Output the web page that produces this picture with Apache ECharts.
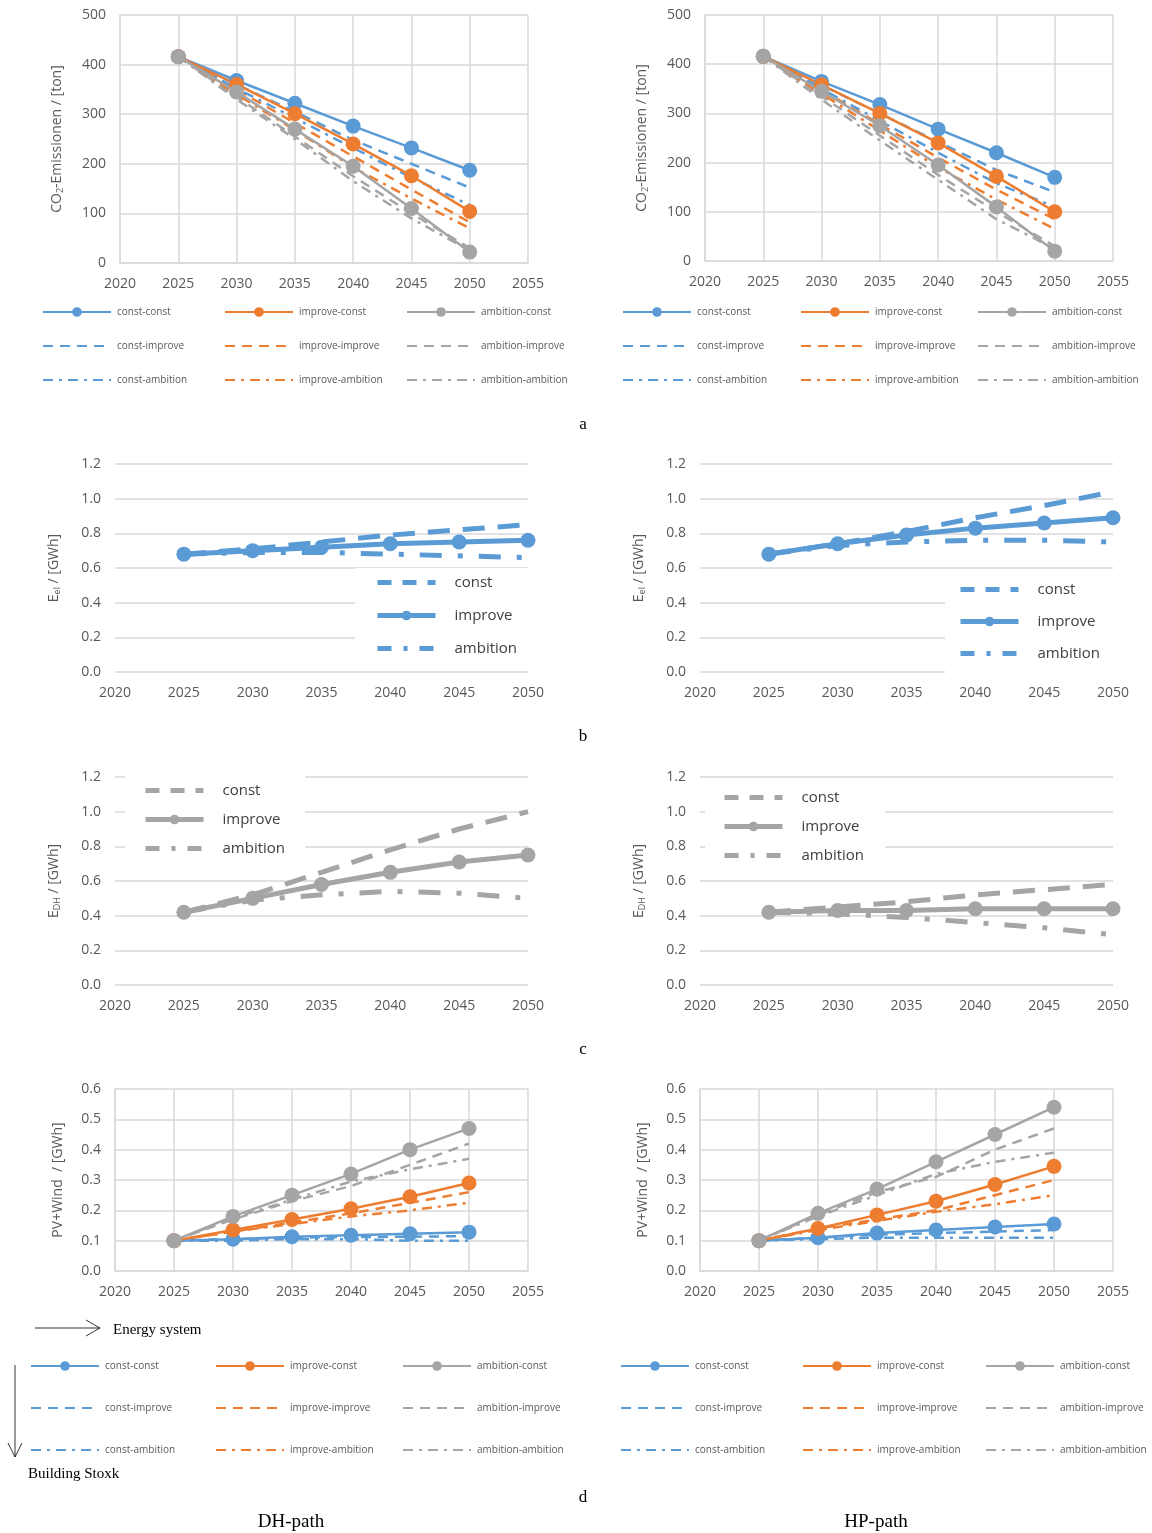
<!DOCTYPE html>
<html>
<head>
<meta charset="utf-8">
<script src="https://cdn.jsdelivr.net/npm/echarts@6/dist/echarts.min.js"></script>
<style>
  html, body { margin: 0; padding: 0; background: #fff; }
  #container { width: 1152px; height: 1533px; }
</style>
</head>
<body>
<div id="container"></div>
<script>
var years = [2025, 2030, 2035, 2040, 2045, 2050];
var combos = ['const-const', 'improve-const', 'ambition-const',
              'const-improve', 'improve-improve', 'ambition-improve',
              'const-ambition', 'improve-ambition', 'ambition-ambition'];
var levels = ['const', 'improve', 'ambition'];

// a: CO2 emissions [ton]
var co2DH = {
  'const-const':       [416, 368, 322, 276, 232, 187],
  'improve-const':     [416, 360, 301, 240, 176, 104],
  'ambition-const':    [416, 345, 270, 195, 110, 22],
  'const-improve':     [416, 360, 305, 248, 200, 152],
  'improve-improve':   [416, 350, 282, 215, 148, 82],
  'ambition-improve':  [416, 335, 255, 175, 100, 30],
  'const-ambition':    [416, 352, 292, 232, 172, 117],
  'improve-ambition':  [416, 340, 268, 193, 130, 70],
  'ambition-ambition': [416, 330, 250, 165, 90, 25]
};
var co2HP = {
  'const-const':       [416, 365, 318, 268, 220, 170],
  'improve-const':     [416, 358, 300, 240, 172, 100],
  'ambition-const':    [416, 345, 275, 195, 110, 20],
  'const-improve':     [416, 357, 300, 242, 185, 140],
  'improve-improve':   [416, 348, 278, 210, 145, 85],
  'ambition-improve':  [416, 335, 255, 175, 100, 30],
  'const-ambition':    [416, 350, 285, 220, 158, 110],
  'improve-ambition':  [416, 340, 265, 190, 125, 65],
  'ambition-ambition': [416, 328, 245, 165, 85, 25]
};
// b: electricity demand [GWh]
var elDH = { 'const': [0.68, 0.71, 0.75, 0.79, 0.82, 0.85], 'improve': [0.68, 0.70, 0.72, 0.74, 0.75, 0.76], 'ambition': [0.68, 0.69, 0.69, 0.68, 0.67, 0.66] };
var elHP = { 'const': [0.68, 0.74, 0.81, 0.89, 0.96, 1.04], 'improve': [0.68, 0.74, 0.79, 0.83, 0.86, 0.89], 'ambition': [0.68, 0.73, 0.75, 0.76, 0.76, 0.75] };
// c: district heating demand [GWh]
var dhDH = { 'const': [0.42, 0.52, 0.65, 0.78, 0.90, 1.00], 'improve': [0.42, 0.50, 0.58, 0.65, 0.71, 0.75], 'ambition': [0.42, 0.49, 0.52, 0.54, 0.53, 0.50] };
var dhHP = { 'const': [0.42, 0.45, 0.48, 0.52, 0.55, 0.58], 'improve': [0.42, 0.43, 0.43, 0.44, 0.44, 0.44], 'ambition': [0.42, 0.41, 0.39, 0.36, 0.33, 0.29] };
// d: PV + wind [GWh]
var pvDH = {
  'const-const':       [0.10, 0.105, 0.113, 0.118, 0.123, 0.128],
  'improve-const':     [0.10, 0.135, 0.17, 0.205, 0.245, 0.29],
  'ambition-const':    [0.10, 0.18, 0.25, 0.32, 0.40, 0.47],
  'const-improve':     [0.10, 0.105, 0.11, 0.112, 0.113, 0.115],
  'improve-improve':   [0.10, 0.13, 0.16, 0.19, 0.225, 0.26],
  'ambition-improve':  [0.10, 0.17, 0.23, 0.28, 0.35, 0.42],
  'const-ambition':    [0.10, 0.10, 0.105, 0.105, 0.10, 0.10],
  'improve-ambition':  [0.10, 0.13, 0.155, 0.18, 0.20, 0.225],
  'ambition-ambition': [0.10, 0.175, 0.235, 0.295, 0.335, 0.37]
};
var pvHP = {
  'const-const':       [0.10, 0.11, 0.125, 0.135, 0.145, 0.155],
  'improve-const':     [0.10, 0.14, 0.185, 0.23, 0.285, 0.345],
  'ambition-const':    [0.10, 0.19, 0.27, 0.36, 0.45, 0.54],
  'const-improve':     [0.10, 0.11, 0.12, 0.125, 0.13, 0.135],
  'improve-improve':   [0.10, 0.14, 0.17, 0.20, 0.25, 0.30],
  'ambition-improve':  [0.10, 0.185, 0.26, 0.31, 0.40, 0.47],
  'const-ambition':    [0.10, 0.105, 0.11, 0.11, 0.11, 0.11],
  'improve-ambition':  [0.10, 0.135, 0.165, 0.195, 0.22, 0.25],
  'ambition-ambition': [0.10, 0.18, 0.25, 0.32, 0.36, 0.39]
};

var colors = { 'const': '#5B9BD5', 'improve': '#ED7D31', 'ambition': '#A5A5A5' };
var FONT = 'Open Sans';
var TXT = '#595959';

var myChart = echarts.init(document.getElementById('container'));
var grids = [], xAxes = [], yAxes = [], series = [], legends = [], graphics = [];

function pts(vals) {
  return vals.map(function (v, i) { return [years[i], v]; });
}
// style: 'solid' | 'dash' | 'dashdot'
function dashOf(style, thick) {
  if (style === 'solid') return 'solid';
  if (style === 'dash') return thick ? [22, 13] : [10, 7];
  return thick ? [22, 16, 5, 16] : [10, 6, 3, 6];
}
var nineStyle = { 'const': 'solid', 'improve': 'dash', 'ambition': 'dashdot' };
var threeStyle = { 'const': 'dash', 'improve': 'solid', 'ambition': 'dashdot' };

function addAxes(g, opt) {
  grids.push({ left: g[0], top: g[1], width: g[2] - g[0], height: g[3] - g[1] });
  var idx = grids.length - 1;
  xAxes.push({
    gridIndex: idx, type: 'value', min: 2020, max: opt.xmax, interval: 5,
    axisLine: { show: opt.box, lineStyle: { color: '#d9d9d9', width: 1.5 } },
    axisTick: { show: false },
    splitLine: { show: opt.box, lineStyle: { color: '#d9d9d9', width: 1.5 } },
    axisLabel: { color: TXT, fontFamily: FONT, fontSize: 14, margin: 14, formatter: function (v) { return String(v); } }
  });
  yAxes.push({
    gridIndex: idx, type: 'value', min: 0, max: opt.ymax, interval: opt.yint,
    name: opt.yname, nameLocation: 'middle', nameGap: opt.nameGap, nameRotate: 90,
    nameTextStyle: { color: TXT, fontFamily: FONT, fontSize: 14,
      rich: { sub: { fontSize: 9, color: TXT, fontFamily: FONT, verticalAlign: 'bottom', padding: [6, 0, 0, 0] } } },
    axisLine: { show: opt.box, lineStyle: { color: '#d9d9d9', width: 1.5 } },
    axisTick: { show: false },
    splitLine: { show: true, lineStyle: { color: '#d9d9d9', width: 1.5 } },
    axisLabel: { color: TXT, fontFamily: FONT, fontSize: 14, margin: 14,
      formatter: function (v) { return opt.dec ? v.toFixed(opt.dec) : String(v); } }
  });
  return idx;
}

function legendItem(name, marker) {
  return marker ? { name: name } : { name: name, itemStyle: { opacity: 0 } };
}

// nine-series chart (a, d)
function nineChart(g, data, opt, tag, legendRows, legendCols) {
  var idx = addAxes(g, opt);
  combos.forEach(function (c) {
    var parts = c.split('-');
    var col = colors[parts[0]];
    var solid = parts[1] === 'const';
    series.push({
      name: c + '|' + tag, type: 'line', xAxisIndex: idx, yAxisIndex: idx,
      data: pts(data[c]),
      symbol: solid ? 'circle' : 'none', symbolSize: 15,
      itemStyle: { color: col },
      lineStyle: { color: col, width: 2.5, type: dashOf(nineStyle[parts[1]], false) },
      z: solid ? 3 : 2
    });
  });
  combos.forEach(function (c, k) {
    var row = Math.floor(k / 3), colI = k % 3;
    legends.push({
      data: [legendItem(c + '|' + tag, c.split('-')[1] === 'const')],
      left: legendCols[colI], top: legendRows[row] - 6,
      itemWidth: 68, itemHeight: 12, itemGap: 0, padding: 0,
      formatter: function (n) { return n.split('|')[0]; },
      textStyle: { color: TXT, fontFamily: FONT, fontSize: 10, padding: [0, 0, 0, 1] },
      selectedMode: false
    });
  });
}

// three-series chart (b, c)
function threeChart(g, data, col, opt, tag, legPos, cover) {
  var idx = addAxes(g, opt);
  levels.forEach(function (l) {
    var solid = threeStyle[l] === 'solid';
    series.push({
      name: l + '|' + tag, type: 'line', xAxisIndex: idx, yAxisIndex: idx,
      data: pts(data[l]),
      symbol: solid ? 'circle' : 'none', symbolSize: 15,
      itemStyle: { color: col },
      lineStyle: { color: col, width: 5, type: dashOf(threeStyle[l], true) },
      z: solid ? 3 : 2
    });
  });
  if (cover) {
    graphics.push({ type: 'rect', shape: { x: cover[0], y: cover[1], width: cover[2], height: cover[3] },
      style: { fill: '#fff' }, z: 1 });
  }
  levels.forEach(function (l, k) {
    var solid = threeStyle[l] === 'solid';
    legends.push({
      data: [legendItem(l + '|' + tag, solid)],
      left: legPos[0], top: legPos[1] + k * legPos[2] - 8,
      itemWidth: 58, itemHeight: 12, padding: 0,
      lineStyle: { width: 5, type: solid ? 'solid' : (l === 'const' ? [14, 11] : [14, 12, 4, 12]) },
      formatter: function (n) { return n.split('|')[0]; },
      textStyle: { color: '#404040', fontFamily: FONT, fontSize: 15, padding: [0, 0, 0, 14] },
      selectedMode: false
    });
  });
}

var optA = { xmax: 2055, ymax: 500, yint: 100, box: true, dec: 0, nameGap: 55, yname: 'CO{sub|2}-Emissionen / [ton]' };
nineChart([120, 15, 528, 263], co2DH, optA, 'aL', [313, 347, 381], [42, 224, 406]);
nineChart([705, 15, 1113, 261], co2HP, optA, 'aR', [313, 347, 381], [622, 800, 977]);

var optB = { xmax: 2050, ymax: 1.2, yint: 0.2, box: false, dec: 1, nameGap: 53, yname: 'E{sub|el} / [GWh]' };
threeChart([115, 464, 528, 672], elDH, colors['const'], optB, 'bL', [375, 583, 33], [355, 568, 185, 100]);
threeChart([700, 464, 1113, 672], elHP, colors['const'], optB, 'bR', [958, 590, 32], [945, 575, 185, 100]);

var optC = { xmax: 2050, ymax: 1.2, yint: 0.2, box: false, dec: 1, nameGap: 53, yname: 'E{sub|DH} / [GWh]' };
threeChart([115, 777, 528, 985], dhDH, colors['ambition'], optC, 'cL', [143, 791, 29], [125, 776, 180, 90]);
threeChart([700, 777, 1113, 985], dhHP, colors['ambition'], optC, 'cR', [722, 798, 29], [705, 783, 180, 90]);

var optD = { xmax: 2055, ymax: 0.6, yint: 0.1, box: true, dec: 1, nameGap: 50, yname: 'PV+Wind  / [GWh]' };
nineChart([115, 1089, 528, 1271], pvDH, optD, 'dL', [1367, 1409, 1451], [30, 215, 402]);
nineChart([700, 1089, 1113, 1271], pvHP, optD, 'dR', [1367, 1409, 1451], [620, 802, 985]);

// panel letters and annotations
function ctr(x, y, text, size) {
  graphics.push({ type: 'text', x: x, y: y,
    style: { text: text, fill: '#000', font: size + 'px "Liberation Serif", serif', align: 'center', verticalAlign: 'middle' } });
}
ctr(583, 425, 'a', 17);
ctr(583, 737, 'b', 17);
ctr(583, 1050, 'c', 17);
ctr(583, 1498, 'd', 17);
ctr(291, 1522, 'DH-path', 19);
ctr(876, 1522, 'HP-path', 19);
graphics.push({ type: 'text', x: 113, y: 1330, style: { text: 'Energy system', fill: '#000', font: '15px "Liberation Serif", serif', align: 'left', verticalAlign: 'middle' } });
graphics.push({ type: 'text', x: 28, y: 1474, style: { text: 'Building Stoxk', fill: '#000', font: '15px "Liberation Serif", serif', align: 'left', verticalAlign: 'middle' } });
graphics.push({ type: 'polyline', shape: { points: [[35, 1328], [100, 1328]] }, style: { stroke: '#000', lineWidth: 0.8, fill: null } });
graphics.push({ type: 'polyline', shape: { points: [[86, 1320], [100, 1328], [86, 1336]] }, style: { stroke: '#000', lineWidth: 0.8, fill: null } });
graphics.push({ type: 'polyline', shape: { points: [[15, 1365], [15, 1457]] }, style: { stroke: '#000', lineWidth: 0.8, fill: null } });
graphics.push({ type: 'polyline', shape: { points: [[8, 1443], [15, 1457], [22, 1443]] }, style: { stroke: '#000', lineWidth: 0.8, fill: null } });

var option = {
  animation: false,
  backgroundColor: '#fff',
  grid: grids,
  xAxis: xAxes,
  yAxis: yAxes,
  legend: legends,
  series: series,
  graphic: graphics
};
myChart.setOption(option);
</script>
</body>
</html>
